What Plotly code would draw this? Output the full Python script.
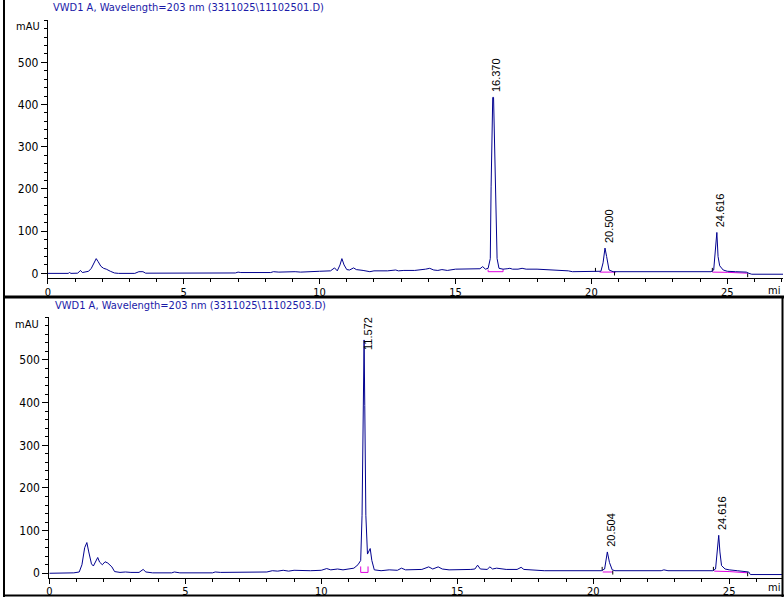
import plotly.graph_objects as go

# ---------------- data ----------------
top_title = "VWD1 A, Wavelength=203 nm (3311025\\11102501.D)"
bot_title = "VWD1 A, Wavelength=203 nm (3311025\\11102503.D)"

top_t = [0.0, 0.75, 0.8, 0.85, 1.1, 1.2, 1.27, 1.4, 1.5, 1.6, 1.7, 1.78, 1.85, 1.95, 2.05, 2.15, 2.3, 2.45, 2.6,
         3.2, 3.35, 3.5, 3.6, 5.35, 5.4, 5.45, 6.9, 7.0, 7.1, 8.2, 8.3, 8.5, 8.8, 9.1, 9.3, 9.5, 10.0, 10.4,
         10.55, 10.65, 10.75, 10.82, 10.9, 11.0, 11.1, 11.25, 11.35, 11.6, 11.8, 11.85, 12.0, 12.5, 12.8, 12.9,
         13.1, 13.5, 13.9, 14.05, 14.2, 14.35, 14.5, 14.7, 15.0, 15.5, 15.9, 16.0, 16.1, 16.2, 16.28, 16.31,
         16.37, 16.40, 16.47, 16.53, 16.6, 16.75, 16.9, 17.0, 17.1, 17.3, 17.45, 17.6, 18.0, 19.0, 19.15, 19.3,
         20.0, 20.35, 20.43, 20.5, 20.56, 20.65, 20.8, 24.4, 24.5, 24.56, 24.616, 24.66, 24.72, 24.85, 25.0,
         25.3, 25.7, 25.8, 25.9, 27.2]
top_v = [0, 0, 2, 0, 0.5, 7, 2, 3, 5, 12, 25, 35, 28, 17, 12, 10, 5, 1, 0,
         0, 4, 4, 0.5, 0.5, 2, 0.5, 1, 3, 2, 2, 4, 3, 4, 4, 3, 4, 5, 6,
         13, 6, 20, 35, 20, 9, 8, 13, 9, 7, 6, 4, 6, 6, 8, 6,
         7, 7, 10, 12, 8, 7, 9, 7, 10, 10, 11, 16, 10, 12, 35, 205,
         417, 417, 205, 35, 12, 10, 11, 12, 10, 10, 12, 10, 10, 8, 6, 4,
         4, 5, 25, 60, 40, 8, 4, 4, 8, 60, 97, 40, 18, 8, 5,
         4, 3, 0, -2, -2]

bot_t = [0.0, 0.8, 0.9, 1.1, 1.2, 1.3, 1.38, 1.45, 1.55, 1.62, 1.72, 1.78, 1.85, 1.95, 2.05, 2.15, 2.3, 2.4,
         2.6, 2.8, 3.0, 3.3, 3.45, 3.55, 3.8, 4.5, 4.6, 4.8, 6.0, 6.1, 6.3, 7.0, 8.0, 8.2, 8.4, 8.6, 8.8, 9.0,
         9.3, 9.6, 10.0, 10.2, 10.35, 10.6, 10.8, 11.0, 11.2, 11.35, 11.45, 11.5, 11.53, 11.565, 11.575, 11.6,
         11.64, 11.7, 11.75, 11.8, 11.86, 11.95, 12.2, 12.5, 12.8, 12.95, 13.1, 13.4, 13.7, 13.95, 14.1, 14.3,
         14.45, 14.7, 15.0, 15.5, 15.65, 15.75, 15.85, 16.1, 16.2, 16.3, 16.45, 16.6, 16.8, 17.2, 17.35, 17.45,
         18.0, 18.2, 20.3, 20.42, 20.52, 20.6, 20.7, 20.8, 22.5, 22.6, 22.75, 24.4, 24.5, 24.57, 24.616, 24.66,
         24.72, 24.85, 25.0, 25.3, 25.6, 25.72, 25.78, 27.2]
bot_v = [0, 0, 1, 3, 20, 60, 72, 50, 22, 17, 30, 37, 26, 20, 27, 24, 15, 4,
         2, 3, 2, 2, 9, 3, 1, 1, 3, 1, 1, 3, 2, 3, 3, 6, 5, 7, 5, 7,
         6, 6, 7, 11, 8, 10, 8, 10, 12, 20, 30, 136, 393, 547, 547, 393,
         136, 45, 52, 58, 30, 8, 6, 8, 7, 12, 8, 8, 9, 15, 10, 15,
         10, 8, 8, 9, 10, 19, 10, 9, 15, 10, 12, 10, 9, 9, 14, 9,
         8, 6, 6, 10, 50, 25, 8, 6, 6, 8, 6, 6, 10, 50, 89, 50,
         18, 10, 8, 6, 4, 3, -3, -3]

# peak labels
top_peaks_t = [16.370, 20.500, 24.616]
top_peaks_v = [417, 60, 97]
top_peaks_lbl = ["16.370", "20.500", "24.616"]
bot_peaks_t = [11.572, 20.504, 24.616]
bot_peaks_v = [547, 50, 89]
bot_peaks_lbl = ["11.572", "20.504", "24.616"]

# integration baselines (t0, v0, t1, v1)
top_base = [(16.2, 9, 16.2, 4), (16.2, 4, 16.75, 4), (16.75, 4, 16.75, 10),
            (20.3, 3, 20.9, 3), (24.45, 3, 25.0, 2.5), (25.0, 2.5, 25.75, 0.5)]
bot_base = [(11.45, 16, 11.45, 2), (11.45, 2, 11.72, 2), (11.72, 2, 11.72, 16),
            (20.35, 3, 20.72, 3), (24.45, 5, 25.0, 4), (25.0, 4, 25.7, 1)]

# peak start / end event ticks: time, level, direction
top_ev_t = [20.15, 20.85, 24.45, 25.75]
top_ev_v = [4, 4, 4, 0]
top_ev_d = [1, -1, 1, -1]
bot_ev_t = [20.33, 20.72, 24.42, 25.68]
bot_ev_v = [6, 6, 6, 2]
bot_ev_d = [1, -1, 1, -1]

y_ticks = [0, 100, 200, 300, 400, 500]
x_ticks = [0, 5, 10, 15, 20, 25]

# ---------------- style ----------------
BLUE = "#00008f"
MAG = "#e000e0"
FONT = "Liberation Sans Narrow, DejaVu Sans Condensed, Arial Narrow, sans-serif"
W, H = 784, 599


def segs(lst):
    xs, ys = [], []
    for t0, v0, t1, v1 in lst:
        xs += [t0, t1, None]
        ys += [v0, v1, None]
    return xs, ys


def evsegs(ts, vs, ds):
    xs, ys = [], []
    for t, v, d in zip(ts, vs, ds):
        xs += [t, t, None]
        ys += [v, v + 9 * d, None]
    return xs, ys


fig = go.Figure()

for (t, v, base, evt, xa, ya) in [
    (top_t, top_v, top_base, (top_ev_t, top_ev_v, top_ev_d), "x", "y"),
    (bot_t, bot_v, bot_base, (bot_ev_t, bot_ev_v, bot_ev_d), "x2", "y2"),
]:
    bx, by = segs(base)
    fig.add_trace(go.Scatter(x=bx, y=by, mode="lines", line=dict(color=MAG, width=1),
                             xaxis=xa, yaxis=ya, hoverinfo="skip", showlegend=False))
    ex, ey = evsegs(*evt)
    fig.add_trace(go.Scatter(x=ex, y=ey, mode="lines", line=dict(color="black", width=1),
                             xaxis=xa, yaxis=ya, hoverinfo="skip", showlegend=False))
    fig.add_trace(go.Scatter(x=t, y=v, mode="lines", line=dict(color=BLUE, width=1),
                             xaxis=xa, yaxis=ya, showlegend=False))


def xaxis_cfg(domain, rng, anchor):
    return dict(domain=domain, range=rng, anchor=anchor, showline=True, linecolor="black", linewidth=1,
                showgrid=False, zeroline=False, ticks="outside", ticklen=5, tickcolor="black",
                tickvals=x_ticks, tickfont=dict(family=FONT, size=11, color="black"),
                ticklabelstandoff=-2,
                minor=dict(dtick=1, tick0=0, ticks="outside", ticklen=3, tickcolor="black", showgrid=False),
                fixedrange=True)


def yaxis_cfg(domain, rng, anchor):
    return dict(domain=domain, range=rng, anchor=anchor, showline=True, linecolor="black", linewidth=1,
                showgrid=False, zeroline=False, ticks="outside", ticklen=6, tickcolor="black",
                tickvals=y_ticks, tickfont=dict(family=FONT, size=12, color="black"),
                minor=dict(dtick=20, tick0=0, ticks="outside", ticklen=3, tickcolor="black", showgrid=False),
                fixedrange=True)


fig.update_layout(
    width=W, height=H, margin=dict(l=0, r=0, t=0, b=0),
    paper_bgcolor="white", plot_bgcolor="white",
    xaxis=xaxis_cfg([45 / W, 783 / W], [0, 27.05], "y"),
    yaxis=yaxis_cfg([1 - 279.3 / H, 1 - 20.2 / H], [-11.8, 600], "x"),
    xaxis2=xaxis_cfg([46.5 / W, 783 / W], [0, 26.98], "y2"),
    yaxis2=yaxis_cfg([1 - 580.2 / H, 1 - 318.4 / H], [-11.7, 600], "x2"),
)

ann = []
# titles
for txt, xp, yp in [(top_title, 48, 8), (bot_title, 50, 307)]:
    ann.append(dict(text=txt, xref="paper", yref="paper", x=xp / W, y=1 - yp / H, xanchor="left",
                    yanchor="middle", showarrow=False, font=dict(family=FONT, size=11, color="#1a1aa8")))
# unit labels
for xp, yp in [(25, 27), (24, 326)]:
    ann.append(dict(text="mAU", xref="paper", yref="paper", x=xp / W, y=1 - yp / H, xanchor="center",
                    yanchor="middle", showarrow=False, font=dict(family=FONT, size=11, color="black")))
for yp in [291, 589]:
    ann.append(dict(text="mi", xref="paper", yref="paper", x=782 / W, y=1 - yp / H, xanchor="right",
                    yanchor="middle", showarrow=False, font=dict(family=FONT, size=11, color="black")))
# peak labels
for ts, vs, ls, xr, yr, shifts in [
    (top_peaks_t, top_peaks_v, top_peaks_lbl, "x", "y", [22, 22, 22]),
    (bot_peaks_t, bot_peaks_v, bot_peaks_lbl, "x2", "y2", [6, 22, 22]),
]:
    for t, v, l, s in zip(ts, vs, ls, shifts):
        ann.append(dict(text=l, xref=xr, yref=yr, x=t, y=v, xanchor="center", yanchor="middle",
                        textangle=-90, xshift=4, yshift=s, showarrow=False,
                        font=dict(family="Liberation Sans, Arial, sans-serif", size=11, color="black")))
fig.update_layout(annotations=ann)

# window frame
shapes = [
    dict(type="line", xref="paper", yref="paper", x0=1 / W, x1=1 / W, y0=0, y1=1, line=dict(color="black", width=2)),
    dict(type="line", xref="paper", yref="paper", x0=0, x1=1, y0=1 - 298 / H, y1=1 - 298 / H,
         line=dict(color="black", width=3)),
    dict(type="line", xref="paper", yref="paper", x0=0, x1=1, y0=1.5 / H, y1=1.5 / H, line=dict(color="black", width=2)),
    dict(type="line", xref="paper", yref="paper", x0=1 - 1.5 / W, x1=1 - 1.5 / W, y0=0, y1=1 - 298 / H,
         line=dict(color="black", width=2)),
]
fig.update_layout(shapes=shapes)

fig.write_html("out.html")
